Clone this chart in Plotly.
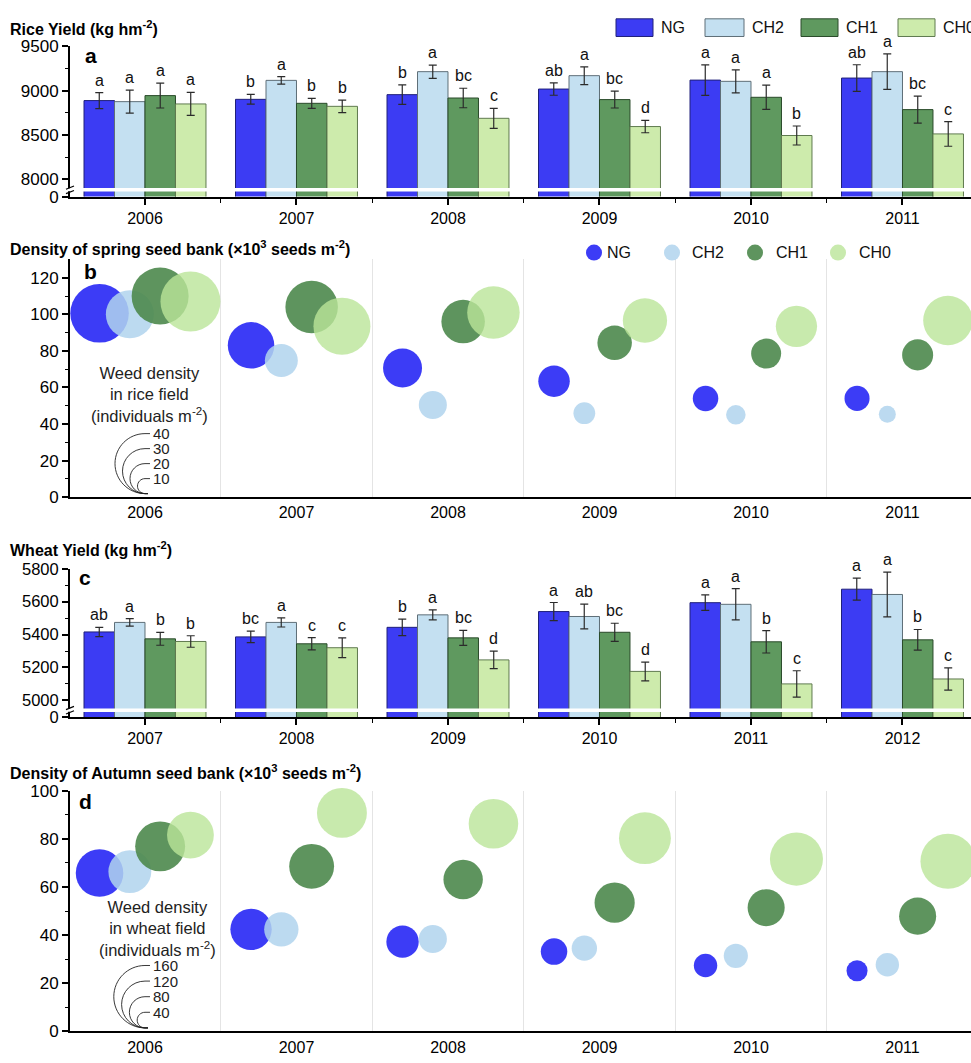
import plotly.graph_objects as go

# ---------------- data ----------------
treatments = ['NG', 'CH2', 'CH1', 'CH0']
rice_years = ['2006', '2007', '2008', '2009', '2010', '2011']
wheat_years = ['2007', '2008', '2009', '2010', '2011', '2012']
seed_years = ['2006', '2007', '2008', '2009', '2010', '2011']

rice_NG = [8888, 8902, 8955, 9018, 9119, 9142]
rice_CH2 = [8876, 9116, 9214, 9169, 9105, 9214]
rice_CH1 = [8944, 8857, 8917, 8899, 8925, 8786]
rice_CH0 = [8850, 8823, 8688, 8595, 8494, 8512]
rice_err_NG = [90, 55, 110, 70, 172, 150]
rice_err_CH2 = [130, 43, 75, 100, 130, 200]
rice_err_CH1 = [140, 56, 110, 95, 137, 152]
rice_err_CH0 = [130, 70, 113, 70, 107, 139]
rice_let_NG = ['a', 'b', 'b', 'ab', 'a', 'ab']
rice_let_CH2 = ['a', 'a', 'a', 'a', 'a', 'a']
rice_let_CH1 = ['a', 'b', 'bc', 'bc', 'a', 'bc']
rice_let_CH0 = ['a', 'b', 'c', 'd', 'b', 'c']

wheat_NG = [5416, 5386, 5444, 5540, 5594, 5676]
wheat_CH2 = [5474, 5474, 5520, 5510, 5584, 5644]
wheat_CH1 = [5374, 5344, 5380, 5414, 5356, 5368]
wheat_CH0 = [5358, 5320, 5246, 5176, 5100, 5130]
wheat_err_NG = [28, 35, 50, 55, 47, 67]
wheat_err_CH2 = [23, 28, 30, 75, 95, 136]
wheat_err_CH1 = [39, 37, 46, 55, 68, 63]
wheat_err_CH0 = [35, 60, 53, 57, 80, 68]
wheat_let_NG = ['ab', 'bc', 'b', 'a', 'a', 'a']
wheat_let_CH2 = ['a', 'a', 'a', 'ab', 'a', 'a']
wheat_let_CH1 = ['b', 'c', 'bc', 'bc', 'b', 'b']
wheat_let_CH0 = ['b', 'c', 'd', 'd', 'c', 'c']

# spring seed bank (x10^3 seeds m-2) and rice-field weed density (individuals m-2)
spring_NG = [100.5, 83, 70.6, 63.4, 54, 54]
spring_CH2 = [100, 74.7, 50.4, 45.9, 45, 45.3]
spring_CH1 = [110, 104, 96, 84.4, 78.5, 77.8]
spring_CH0 = [107, 93.5, 101, 96.6, 93.4, 96.6]
riceweed_NG = [39, 31, 26, 21, 17, 16.7]
riceweed_CH2 = [32, 22, 18.7, 14.5, 13, 11.3]
riceweed_CH1 = [38, 35, 29, 23, 20, 20.7]
riceweed_CH0 = [40, 38, 35, 29.5, 27.5, 33]

# autumn seed bank and wheat-field weed density
autumn_NG = [65.8, 42.4, 37.3, 33.2, 27.4, 25.2]
autumn_CH2 = [66.4, 42.4, 38.4, 34.6, 31.4, 27.7]
autumn_CH1 = [76.9, 68.6, 63.1, 53.5, 51.4, 47.9]
autumn_CH0 = [81.6, 90.8, 86.3, 80.3, 71.6, 70.7]
wheatweed_NG = [122, 106, 83, 68, 60, 54]
wheatweed_CH2 = [110, 88, 72, 65, 62, 60]
wheatweed_CH1 = [128, 115, 101, 103, 95, 95]
wheatweed_CH0 = [120, 128, 127, 133, 136, 141]

rice_size_keys = [10, 20, 30, 40]
wheat_size_keys = [40, 80, 120, 160]

# ---------------- layout helpers ----------------
W, H = 971, 1063
ML = 70
PW = W - ML
FONT = 'Liberation Sans, Arial, sans-serif'


def px_x(px):
    return (px - ML) / PW


def px_y(py):
    return 1 - py / H


bar_fill = {'NG': '#3c3cf3', 'CH2': '#c4e0f1', 'CH1': '#5f995f', 'CH0': '#cdebac'}
bar_line = {'NG': '#20207a', 'CH2': '#5f6f78', 'CH1': '#2a4a2a', 'CH0': '#5f7a4f'}
bub_col = {'NG': 'rgba(50,50,245,0.95)', 'CH2': 'rgba(176,212,237,0.85)',
           'CH1': 'rgba(76,136,76,0.9)', 'CH0': 'rgba(186,229,152,0.8)'}

RICE_SCALE = 1.5    # px diameter per individual m-2
WHEAT_SCALE = 0.39

xpos = list(range(6))
BARGAP = 0.195
BW = (1 - BARGAP) / 4
offsets = [(k - 1.5) * BW for k in range(4)]

fig = go.Figure()

rice = {'NG': (rice_NG, rice_err_NG, rice_let_NG), 'CH2': (rice_CH2, rice_err_CH2, rice_let_CH2),
        'CH1': (rice_CH1, rice_err_CH1, rice_let_CH1), 'CH0': (rice_CH0, rice_err_CH0, rice_let_CH0)}
wheat = {'NG': (wheat_NG, wheat_err_NG, wheat_let_NG), 'CH2': (wheat_CH2, wheat_err_CH2, wheat_let_CH2),
         'CH1': (wheat_CH1, wheat_err_CH1, wheat_let_CH1), 'CH0': (wheat_CH0, wheat_err_CH0, wheat_let_CH0)}
spring = {'NG': (spring_NG, riceweed_NG), 'CH2': (spring_CH2, riceweed_CH2),
          'CH1': (spring_CH1, riceweed_CH1), 'CH0': (spring_CH0, riceweed_CH0)}
autumn = {'NG': (autumn_NG, wheatweed_NG), 'CH2': (autumn_CH2, wheatweed_CH2),
          'CH1': (autumn_CH1, wheatweed_CH1), 'CH0': (autumn_CH0, wheatweed_CH0)}

annotations = []

for data, xa, ya in [(rice, 'x', 'y'), (wheat, 'x3', 'y3')]:
    for k, t in enumerate(treatments):
        vals, err, lets = data[t]
        fig.add_trace(go.Bar(
            x=xpos, y=vals, name=t, showlegend=False, xaxis=xa, yaxis=ya,
            marker=dict(color=bar_fill[t], line=dict(color=bar_line[t], width=1)),
            error_y=dict(type='data', array=err, color='#2b2b2b', thickness=1.2, width=4),
        ))
        for i in range(6):
            annotations.append(dict(
                x=xpos[i] + offsets[k], y=vals[i] + err[i], xref=xa, yref=ya,
                text=lets[i], showarrow=False, yanchor='bottom', yshift=2,
                font=dict(size=16, color='#111', family=FONT)))

for data, xa, ya, sc in [(spring, 'x2', 'y2', RICE_SCALE), (autumn, 'x4', 'y4', WHEAT_SCALE)]:
    for k, t in enumerate(treatments):
        yv, sz = data[t]
        fig.add_trace(go.Scatter(
            x=[xpos[i] + (k - 1.5) * 0.2 for i in range(6)], y=yv, mode='markers',
            name=t, showlegend=False, xaxis=xa, yaxis=ya, cliponaxis=False,
            marker=dict(size=[s * sc for s in sz], sizemode='diameter', sizeref=1, opacity=1,
                        color=bub_col[t], line=dict(width=0)),
        ))

# ---------------- axes ----------------
doms = {
    'a': [px_y(191), px_y(38)],
    'b': [px_y(497), px_y(255)],
    'c': [px_y(721), px_y(570)],
    'd': [px_y(1041), px_y(796)],
}
XR = [-0.495, -0.495 + PW / 151.5]


def xaxis(labels, anchor, bubble):
    d = dict(domain=[0, 1], range=XR, anchor=anchor, tickmode='array', tickvals=xpos,
             ticktext=labels, showline=True, linecolor='black', linewidth=2.2 if bubble else 2,
             showgrid=False, zeroline=False, tickfont=dict(size=16, color='black', family=FONT),
             ticks='' if bubble else 'outside', ticklen=6, tickwidth=1.5, tickcolor='black')
    if bubble:
        d['minor'] = dict(tickvals=[0.5, 1.5, 2.5, 3.5, 4.5], showgrid=True,
                          gridcolor='#e4e4e4', gridwidth=1, ticks='')
    else:
        d['minor'] = dict(tickvals=[0.5, 1.5, 2.5, 3.5, 4.5], ticks='outside', ticklen=4,
                          tickwidth=1.2, tickcolor='black', showgrid=False)
    return d


def yaxis(dom, anchor, rng, tv, tt, minor, fs=17):
    return dict(domain=dom, anchor=anchor, range=rng, tickmode='array', tickvals=tv, ticktext=tt,
                showline=True, linecolor='black', linewidth=2, ticks='outside', ticklen=6,
                tickwidth=1.5, tickcolor='black', showgrid=False, zeroline=False,
                tickfont=dict(size=fs, color='black', family=FONT),
                minor=dict(tickvals=minor, ticks='outside', ticklen=3.5, tickwidth=1.2,
                           tickcolor='black', showgrid=False))


RICE_ZERO = 7805
WHEAT_ZERO = 4898

fig.update_layout(
    xaxis=xaxis(rice_years, 'y', False),
    xaxis2=xaxis(seed_years, 'y2', True),
    xaxis3=xaxis(wheat_years, 'y3', False),
    xaxis4=xaxis(seed_years, 'y4', True),
    yaxis=yaxis(doms['a'], 'x', [RICE_ZERO, 9500], [RICE_ZERO, 8000, 8500, 9000, 9500],
                ['0', '8000', '8500', '9000', '9500'], [8250, 8750, 9250]),
    yaxis2=yaxis(doms['b'], 'x2', [0, 130], [0, 20, 40, 60, 80, 100, 120],
                 ['0', '20', '40', '60', '80', '100', '120'], [10, 30, 50, 70, 90, 110]),
    yaxis3=yaxis(doms['c'], 'x3', [WHEAT_ZERO, 5800], [WHEAT_ZERO, 5000, 5200, 5400, 5600, 5800],
                 ['0', '5000', '5200', '5400', '5600', '5800'], [5100, 5300, 5500, 5700], fs=16.5),
    yaxis4=yaxis(doms['d'], 'x4', [0, 100], [0, 20, 40, 60, 80, 100],
                 ['0', '20', '40', '60', '80', '100'], [10, 30, 50, 70, 90]),
    barmode='group', bargap=BARGAP, bargroupgap=0,
    width=W, height=H, margin=dict(l=ML, r=0, t=0, b=0),
    paper_bgcolor='white', plot_bgcolor='white',
    font=dict(family=FONT, color='black'),
    showlegend=False, hovermode=False,
)

shapes = []

# axis breaks (white stripe + break marks)
for ya, brk in [('y', 7881), ('y3', 4940)]:
    shapes.append(dict(type='line', xref='paper', yref=ya, x0=0.004, x1=1, y0=brk, y1=brk,
                       line=dict(color='white', width=3.5), layer='above'))
    shapes.append(dict(type='rect', xref='paper', yref=ya, xsizemode='pixel', ysizemode='pixel',
                       xanchor=0, yanchor=brk, x0=-3, x1=3, y0=-1.5, y1=1.5,
                       fillcolor='white', line=dict(width=0), layer='above'))
    for dy in (-2.2, 2.2):
        shapes.append(dict(type='line', xref='paper', yref=ya, xsizemode='pixel', ysizemode='pixel',
                           xanchor=0, yanchor=brk, x0=-4, x1=4, y0=dy - 1.6, y1=dy + 1.6,
                           line=dict(color='black', width=1.2), layer='above'))

# size keys (nested half circles)
K = 0.5523
for xa, ya, keys, sc in [('x2', 'y2', rice_size_keys, RICE_SCALE), ('x4', 'y4', wheat_size_keys, WHEAT_SCALE)]:
    for v in keys:
        r = v * sc / 2
        y0 = 3.5
        path = (f"M 3,{y0} L 0,{y0} C {-K*r},{y0} {-r},{y0+r-K*r} {-r},{y0+r} "
                f"C {-r},{y0+r+K*r} {-K*r},{y0+2*r} 0,{y0+2*r} L 5,{y0+2*r}")
        shapes.append(dict(type='path', xref=xa, yref=ya, xsizemode='pixel', ysizemode='pixel',
                           xanchor=0, yanchor=0, path=path, line=dict(color='#222', width=0.9)))

# legend for panel a (boxes)
for t, x0, x1, tx in [('NG', 616, 653, 659), ('CH2', 705, 744, 750), ('CH1', 801, 838, 844), ('CH0', 898, 935, 941)]:
    shapes.append(dict(type='rect', xref='paper', yref='paper', x0=px_x(x0), x1=px_x(x1),
                       y0=px_y(28), y1=px_y(10), fillcolor=bar_fill[t],
                       line=dict(color=bar_line[t], width=1)))
    annotations.append(dict(x=px_x(tx), y=px_y(19), xref='paper', yref='paper', text=t,
                            showarrow=False, xanchor='left', yanchor='middle',
                            font=dict(size=16, family=FONT, color='#111')))

# legend for panel b (circles)
for t, cx, tx in [('NG', 594, 605), ('CH2', 672, 690), ('CH1', 755, 774), ('CH0', 838, 857)]:
    shapes.append(dict(type='circle', xref='paper', yref='paper', xsizemode='pixel', ysizemode='pixel',
                       xanchor=px_x(cx), yanchor=px_y(248), x0=-8, x1=8, y0=-8, y1=8,
                       fillcolor=bub_col[t], line=dict(width=0)))
    annotations.append(dict(x=px_x(tx), y=px_y(248), xref='paper', yref='paper', text=t,
                            showarrow=False, xanchor='left', yanchor='middle',
                            font=dict(size=16, family=FONT, color='#111')))

# titles
for txt, py in [('Rice Yield (kg hm<sup>-2</sup>)', 19),
                ('Density of spring seed bank (×10<sup>3</sup> seeds m<sup>-2</sup>)', 243),
                ('Wheat Yield (kg hm<sup>-2</sup>)', 550),
                ('Density of Autumn seed bank (×10<sup>3</sup> seeds m<sup>-2</sup>)', 777)]:
    annotations.append(dict(x=px_x(8), y=px_y(py), xref='paper', yref='paper', text=f'<b>{txt}</b>',
                            showarrow=False, xanchor='left', yanchor='middle',
                            font=dict(size=16, family=FONT, color='black')))

# panel letters
for lt, px, py in [('a', 83, 47), ('b', 82, 267), ('c', 77, 579), ('d', 77, 807)]:
    annotations.append(dict(x=px_x(px), y=px_y(py), xref='paper', yref='paper', text=f'<b>{lt}</b>',
                            showarrow=False, xanchor='left', yanchor='middle',
                            font=dict(size=21, family=FONT, color='black')))

# size key texts
annotations.append(dict(x=px_x(149), y=px_y(393), xref='paper', yref='paper',
                        text='Weed density<br>in rice field<br>(individuals m<sup>-2</sup>)',
                        showarrow=False, align='center', xanchor='center', yanchor='middle',
                        font=dict(size=16.5, family=FONT, color='#222')))
annotations.append(dict(x=px_x(157), y=px_y(936), xref='paper', yref='paper',
                        text='Weed density<br>in wheat field<br>(individuals m<sup>-2</sup>)',
                        showarrow=False, align='center', xanchor='center', yanchor='middle',
                        font=dict(size=16.5, family=FONT, color='#222')))
for xa, ya, keys, sc in [('x2', 'y2', rice_size_keys, RICE_SCALE), ('x4', 'y4', wheat_size_keys, WHEAT_SCALE)]:
    for v in keys:
        annotations.append(dict(x=0, y=0, xref=xa, yref=ya, text=str(v), showarrow=False,
                                xanchor='left', yanchor='middle', xshift=6, yshift=3.5 + v * sc,
                                font=dict(size=15, family=FONT, color='#222')))

fig.update_layout(shapes=shapes, annotations=annotations)
fig.write_html('out.html', config={'displayModeBar': False},
               post_script="document.body.style.margin='0px';document.body.style.overflow='hidden';")
